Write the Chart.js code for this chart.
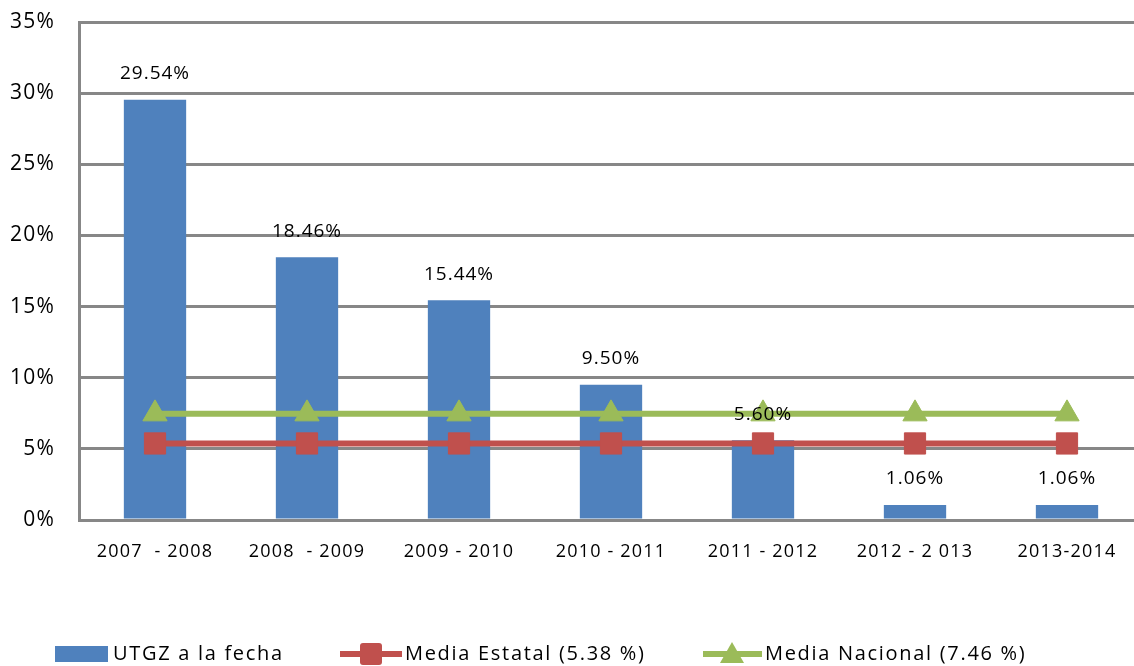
<!DOCTYPE html>
<html>
<head>
<meta charset="utf-8">
<script src="https://cdn.jsdelivr.net/npm/chart.js@4.4.0/dist/chart.umd.min.js"></script>
<style>
  html, body { margin: 0; padding: 0; background: #fff; overflow: hidden; }
  #wrap { width: 1150px; height: 666px; }
</style>
</head>
<body>
<div id="wrap"><canvas id="chart" width="1150" height="666"></canvas></div>
<script>
const periods = ["2007  - 2008", "2008  - 2009", "2009 - 2010", "2010 - 2011", "2011 - 2012", "2012 - 2 013", "2013-2014"];
const utgz = [29.54, 18.46, 15.44, 9.50, 5.60, 1.06, 1.06];
const mediaEstatal = [5.38, 5.38, 5.38, 5.38, 5.38, 5.38, 5.38];
const mediaNacional = [7.46, 7.46, 7.46, 7.46, 7.46, 7.46, 7.46];
const legendLabels = ["UTGZ a la fecha", "Media Estatal (5.38 %)", "Media Nacional (7.46 %)"];

const blue = "#4F81BD";
const red = "#C0504D";
const green = "#9BBB59";
const gridGray = "#878787";
const font = "'Open Sans', sans-serif";

const spacing = {
  id: "spacing",
  beforeLayout(chart) { chart.ctx.letterSpacing = "1.2px"; },
  beforeDraw(chart) { chart.ctx.letterSpacing = "1.2px"; },
};

const barLabels = {
  id: "barLabels",
  afterDatasetsDraw(chart) {
    const ctx = chart.ctx;
    const meta = chart.getDatasetMeta(2);
    ctx.save();
    ctx.letterSpacing = "1px";
    ctx.font = "19px " + font;
    ctx.fillStyle = "#000";
    ctx.textAlign = "center";
    ctx.textBaseline = "middle";
    meta.data.forEach((bar, i) => {
      ctx.fillText(utgz[i].toFixed(2) + "%", bar.x, bar.y - 26);
    });
    ctx.restore();
  },
};

const customLegend = {
  id: "customLegend",
  afterDraw(chart) {
    const ctx = chart.ctx;
    const y = 654;
    ctx.save();
    ctx.fillStyle = blue;
    ctx.fillRect(55, 646, 53, 16);
    ctx.strokeStyle = red;
    ctx.lineWidth = 6;
    ctx.beginPath(); ctx.moveTo(340, y); ctx.lineTo(402, y); ctx.stroke();
    ctx.fillStyle = red;
    ctx.beginPath(); ctx.roundRect(360, y - 11, 22, 22, 3); ctx.fill();
    ctx.strokeStyle = green;
    ctx.beginPath(); ctx.moveTo(703, y); ctx.lineTo(762, y); ctx.stroke();
    ctx.fillStyle = green;
    ctx.beginPath(); ctx.moveTo(732, y - 12); ctx.lineTo(744, y + 9); ctx.lineTo(720, y + 9); ctx.closePath(); ctx.fill();
    ctx.letterSpacing = "1.7px";
    ctx.font = "20px " + font;
    ctx.fillStyle = "#000";
    ctx.textBaseline = "middle";
    ctx.textAlign = "left";
    ctx.fillText(legendLabels[0], 113, y);
    ctx.fillText(legendLabels[1], 405, y);
    ctx.fillText(legendLabels[2], 765, y);
    ctx.restore();
  },
};

new Chart(document.getElementById("chart"), {
  type: "bar",
  data: {
    labels: periods,
    datasets: [
      {
        type: "line",
        label: legendLabels[2],
        data: mediaNacional,
        borderColor: green,
        backgroundColor: green,
        borderWidth: 6,
        pointStyle: "triangle",
        pointRadius: 14,
        pointBorderWidth: 1,
        order: 1,
      },
      {
        type: "line",
        label: legendLabels[1],
        data: mediaEstatal,
        borderColor: red,
        backgroundColor: red,
        borderWidth: 6,
        pointStyle: "rect",
        pointRadius: 15,
        pointBorderWidth: 1,
        order: 2,
      },
      {
        label: legendLabels[0],
        data: utgz,
        backgroundColor: blue,
        categoryPercentage: 1,
        barPercentage: 0.41,
        order: 10,
      },
    ],
  },
  options: {
    responsive: false,
    animation: false,
    devicePixelRatio: 1,
    layout: { autoPadding: false, padding: { top: 22, right: 7, left: 0, bottom: 0 } },
    plugins: { legend: { display: false }, tooltip: { enabled: false } },
    scales: {
      x: {
        grid: { display: false },
        border: { display: true, color: gridGray, width: 3 },
        ticks: { color: "#000", padding: 13, maxRotation: 0, font: { family: font, size: 18 } },
        afterFit(scale) { scale.height = 146; },
      },
      y: {
        min: 0,
        max: 35,
        ticks: {
          stepSize: 5,
          color: "#000",
          padding: 24,
          font: { family: font, size: 21 },
          callback: (v) => v + "%",
        },
        grid: { color: gridGray, lineWidth: 3, drawTicks: false },
        border: { display: true, color: gridGray, width: 3 },
        afterFit(scale) { scale.width = 79; scale.paddingTop = 0; scale.paddingBottom = 0; },
      },
    },
  },
  plugins: [spacing, barLabels, customLegend],
});
</script>
</body>
</html>
